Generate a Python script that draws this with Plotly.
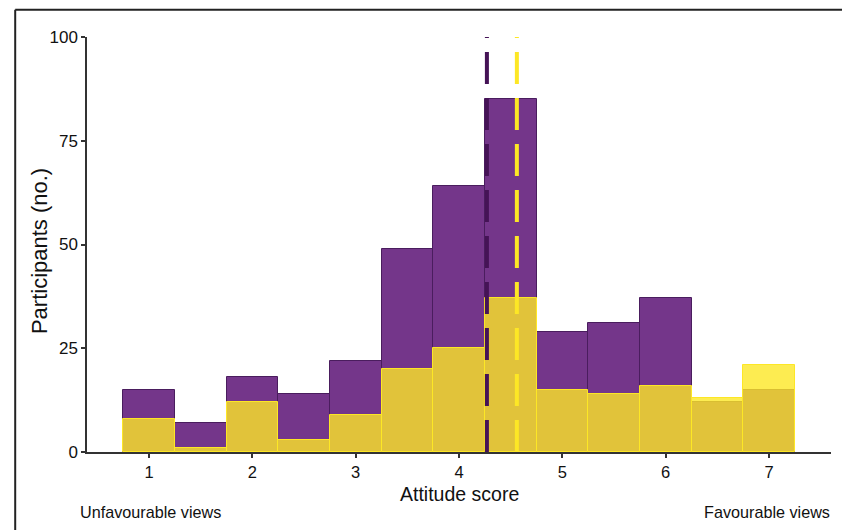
import plotly.graph_objects as go

# Attitude score bins (centres, width 0.5)
bin_centres = [1, 1.5, 2, 2.5, 3, 3.5, 4, 4.5, 5, 5.5, 6, 6.5, 7]
group_a_counts = [15, 7, 18, 14, 22, 49, 64, 85, 29, 31, 37, 12, 15]
group_b_counts = [8, 1, 12, 3, 9, 20, 25, 37, 15, 14, 16, 13, 21]
group_a_mean = 4.27
group_b_mean = 4.56
x_ticks = [1, 2, 3, 4, 5, 6, 7]
y_ticks = [0, 25, 50, 75, 100]

PURPLE = "#74368A"
PURPLE_EDGE = "#4A1D5E"
PURPLE_MEAN = "#451356"
YELLOW = "rgba(253,231,37,0.8)"
YELLOW_EDGE = "#FDE725"
FONT = "Liberation Sans, Arial, sans-serif"

fig = go.Figure()
fig.add_trace(go.Bar(
    x=bin_centres, y=group_a_counts, width=0.5,
    marker=dict(color=PURPLE, line=dict(color=PURPLE_EDGE, width=1)),
    showlegend=False,
))
fig.add_trace(go.Bar(
    x=bin_centres, y=group_b_counts, width=0.5,
    marker=dict(color=YELLOW, line=dict(color=YELLOW_EDGE, width=1)),
    showlegend=False,
))

# group means as dashed verticals
for m, c in [(group_a_mean, PURPLE_MEAN), (group_b_mean, YELLOW_EDGE)]:
    fig.add_shape(type="line", xref="x", yref="y", x0=m, x1=m, y0=0, y1=100,
                  line=dict(color=c, width=4, dash="32px,14px"), layer="above")

# outer frame (top and left edges)
fig.add_shape(type="line", xref="paper", yref="paper", x0=-0.0965, x1=1.2, y0=1.0655, y1=1.0655,
              line=dict(color="#222222", width=2))
fig.add_shape(type="line", xref="paper", yref="paper", x0=-0.0965, x1=-0.0965, y0=-0.3, y1=1.0655,
              line=dict(color="#222222", width=2))

fig.add_annotation(text="Attitude score", xref="paper", yref="paper", x=0.5, y=-0.101,
                   showarrow=False, yanchor="middle", font=dict(size=19.5, color="#111111", family=FONT))
fig.add_annotation(text="Participants (no.)", xref="paper", yref="paper", x=-0.064, y=0.485,
                   textangle=-90, showarrow=False, xanchor="center",
                   font=dict(size=22, color="#111111", family=FONT))
fig.add_annotation(text="Unfavourable views", xref="paper", yref="paper", x=-0.012, y=-0.145,
                   xanchor="left", yanchor="middle", showarrow=False,
                   font=dict(size=16.2, color="#111111", family=FONT))
fig.add_annotation(text="Favourable views", xref="paper", yref="paper", x=1.001, y=-0.145,
                   xanchor="right", yanchor="middle", showarrow=False,
                   font=dict(size=16.2, color="#111111", family=FONT))

fig.update_layout(
    width=842, height=530,
    margin=dict(l=87, r=11, t=37, b=78),
    barmode="overlay", bargap=0,
    paper_bgcolor="white", plot_bgcolor="white",
    font=dict(family=FONT, color="#111111"),
    xaxis=dict(range=[0.4, 7.6], tickvals=x_ticks, showgrid=False, zeroline=False,
               showline=True, linecolor="#333333", linewidth=1.5,
               ticks="outside", ticklen=4, tickcolor="#333333", tickwidth=1.5,
               tickfont=dict(size=16.5, color="#111111")),
    yaxis=dict(range=[0, 100], tickvals=y_ticks, showgrid=False, zeroline=False,
               showline=True, linecolor="#333333", linewidth=1.5,
               ticks="outside", ticklen=4, tickcolor="#333333", tickwidth=1.5,
               tickfont=dict(size=17, color="#111111")),
)

fig.write_html("out.html")
